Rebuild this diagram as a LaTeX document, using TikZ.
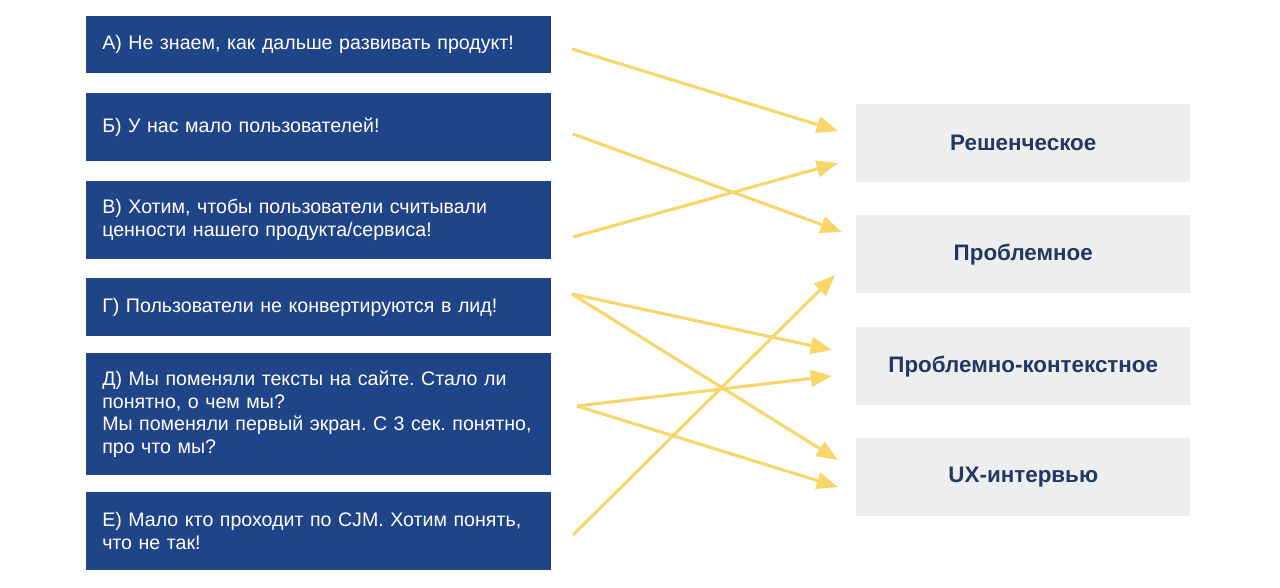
\documentclass[tikz,border=0pt]{standalone}
\usepackage{fontspec}
\setmainfont{Liberation Sans}
\frenchspacing
\usetikzlibrary{arrows.meta}
\definecolor{boxblue}{RGB}{31,69,136}
\definecolor{boxgrey}{RGB}{238,238,238}
\definecolor{arrowyellow}{RGB}{248,214,106}
\definecolor{textnavy}{RGB}{34,56,98}
\tikzset{
casebox/.style={anchor=north west, fill=boxblue, text=white, inner xsep=12pt, inner ysep=0pt,
  text width=324.75pt, minimum width=348.75pt, align=left, font=\fontsize{14.7}{17.2}\selectfont},
typebox/.style={anchor=north west, fill=boxgrey, text=textnavy, minimum width=250.5pt,
  minimum height=58.5pt, inner sep=0pt, font=\fontsize{16.8}{19}\selectfont\bfseries},
link/.style={draw=arrowyellow, line width=2.3pt, -{Triangle[length=16pt,width=12.5pt]}}}
\begin{document}
\begin{tikzpicture}[x=0.75pt,y=0.75pt,yscale=-1]
\useasboundingbox (0,0) rectangle (1280,588);

% Left boxes
\node [casebox, minimum height=42.75pt] (A) at (86,16) {А) Не знаем, как дальше развивать продукт!};
\node [casebox, minimum height=51pt] (B) at (86,93) {Б) У нас мало пользователей!};
\node [casebox, minimum height=58.5pt] (V) at (86,181) {В) Хотим, чтобы пользователи считывали\\ценности нашего продукта/сервиса!};
\node [casebox, minimum height=43.5pt] (G) at (86,278) {Г) Пользователи не конвертируются в лид!};
\node [casebox, minimum height=91.5pt] (D) at (86,353) {Д) Мы поменяли тексты на сайте. Стало ли\\понятно, о чем мы?\\Мы поменяли первый экран. С 3 сек. понятно,\\про что мы?};
\node [casebox, minimum height=58.5pt] (E) at (86,492) {Е) Мало кто проходит по CJM. Хотим понять,\\что не так!};

% Right boxes
\node [typebox] (res) at (856,104) {Решенческое};
\node [typebox] (prob) at (856,215) {Проблемное};
\node [typebox] (ctx) at (856,327) {Проблемно-контекстное};
\node [typebox] (ux) at (856,438) {UX-интервью};

% Arrow ends
\coordinate (A-out) at (572,49);
\coordinate (B-out) at (573,134);
\coordinate (V-out) at (573,237);
\coordinate (G-out) at (572,294);
\coordinate (D-out) at (577,406);
\coordinate (E-out) at (573,535);
\coordinate (res-in1) at (838,131);
\coordinate (res-in2) at (838,163);
\coordinate (prob-in1) at (842,232);
\coordinate (prob-in2) at (835,275);
\coordinate (ctx-in1) at (832,350);
\coordinate (ctx-in2) at (832,376);
\coordinate (ux-in1) at (838,460);
\coordinate (ux-in2) at (838,487);

% Arrows
\draw [link] (A-out) -- (res-in1);
\draw [link] (B-out) -- (prob-in1);
\draw [link] (V-out) -- (res-in2);
\draw [link] (G-out) -- (ctx-in1);
\draw [link] (G-out) -- (ux-in1);
\draw [link] (D-out) -- (ctx-in2);
\draw [link] (D-out) -- (ux-in2);
\draw [link] (E-out) -- (prob-in2);

\end{tikzpicture}
\end{document}
